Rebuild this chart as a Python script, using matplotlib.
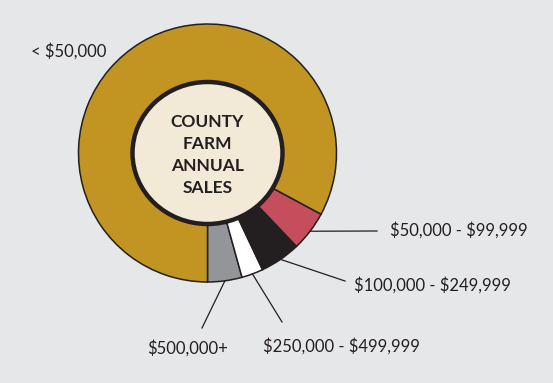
import numpy as np
import matplotlib.pyplot as plt
from matplotlib.patches import Ellipse

plt.rcParams["text.parse_math"] = False

categories = ["< $50,000", "$50,000 - $99,999", "$100,000 - $249,999",
              "$250,000 - $499,999", "$500,000+"]
shares = [82.7, 5.0, 5.1, 2.7, 4.3]
colors = ["#c29523", "#c44e5c", "#231f20", "#ffffff", "#939598"]

bg = "#e6e7e8"
dark = "#231f20"
H = 383

fig = plt.figure(figsize=(5.53, 3.83), dpi=100, facecolor=bg)
ax = fig.add_axes([0, 0, 1, 1])
ax.set_facecolor(bg)

cx, cy, r = 207.5, H - 153, 129

# pie drawn from the bottom going counterclockwise: smallest classes first
wedges, _ = ax.pie(shares[::-1], colors=colors[::-1], startangle=270,
                   counterclock=True, radius=r, center=(cx, cy),
                   wedgeprops=dict(width=r - 66, edgecolor=dark, linewidth=1.1))
wedges = wedges[::-1]

ax.add_patch(Ellipse((cx, cy), 150, 142, facecolor="#f2ead6",
                     edgecolor=dark, linewidth=3.2, zorder=5))
ax.text(cx, H - 155, "COUNTY\nFARM\nANNUAL\nSALES", ha="center", va="center",
        fontsize=12.5, fontweight="bold", family="Lato", color=dark,
        linespacing=1.45, zorder=6)

font = dict(family="Lato", fontsize=12, color=dark)

# label anchors (pixel positions), leader end points
labels = {
    1: ((377, 231), (390, 230), "left"),
    2: ((345, 281), (354, 285), "left"),
    3: ((282, 322), (263, 346), "left"),
    4: ((202, 328), (188, 348), "center"),
}
for i, (end, pos, ha) in labels.items():
    w = wedges[i]
    mid = np.deg2rad((w.theta1 + w.theta2) / 2)
    x0, y0 = cx + r * np.cos(mid), cy + r * np.sin(mid)
    ax.plot([x0, end[0]], [y0, H - end[1]], color=dark, linewidth=0.9)
    ax.text(pos[0], H - pos[1], categories[i], ha=ha, va="center", **font)

ax.text(31, H - 51, categories[0], ha="left", va="center", **font)

ax.set_xlim(0, 553)
ax.set_ylim(0, H)
ax.set_aspect("equal")
ax.axis("off")

fig.savefig("out.png", dpi=100, facecolor=bg)
